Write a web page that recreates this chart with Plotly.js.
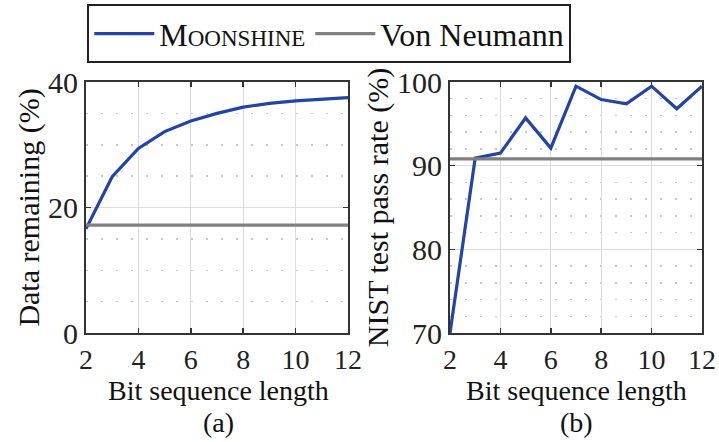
<!DOCTYPE html>
<html>
<head>
<meta charset="utf-8">
<script src="https://cdn.plot.ly/plotly-3.0.1.min.js"></script>
<style>html,body{margin:0;padding:0;background:#fff;}#chart{width:719px;height:442px;}</style>
</head>
<body>
<div id="chart"></div>
<script>
var bitLength = [2, 3, 4, 5, 6, 7, 8, 9, 10, 11, 12];
var moonshineRemaining = [16.6, 24.9, 29.4, 32.1, 33.8, 35.0, 36.0, 36.6, 37.0, 37.3, 37.5];
var vonNeumannRemaining = [17.2, 17.2, 17.2, 17.2, 17.2, 17.2, 17.2, 17.2, 17.2, 17.2, 17.2];
var moonshinePass = [70.0, 90.9, 91.5, 95.7, 92.1, 99.5, 97.9, 97.4, 99.5, 96.8, 99.5];
var vonNeumannPass = [90.8, 90.8, 90.8, 90.8, 90.8, 90.8, 90.8, 90.8, 90.8, 90.8, 90.8];
var xTicks = [2, 4, 6, 8, 10, 12];
var yTicksA = [0, 20, 40];
var yTicksB = [70, 80, 90, 100];
var xTitle = 'Bit sequence length';
var panelLabels = ['(a)', '(b)'];

var BLUE = '#2443a6', GRAY = '#7f7f7f';
var FONT = 'Liberation Serif';
var FS = 30;

var traces = [
  {x: bitLength, y: moonshineRemaining, type: 'scatter', mode: 'lines', name: 'M<span style="font-size:23px">OONSHINE</span>', line: {color: BLUE, width: 3.2}, xaxis: 'x', yaxis: 'y'},
  {x: bitLength, y: vonNeumannRemaining, type: 'scatter', mode: 'lines', name: 'Von Neumann', line: {color: GRAY, width: 3.2}, xaxis: 'x', yaxis: 'y'},
  {x: bitLength, y: moonshinePass, type: 'scatter', mode: 'lines', showlegend: false, line: {color: BLUE, width: 3.2}, xaxis: 'x2', yaxis: 'y2'},
  {x: bitLength, y: vonNeumannPass, type: 'scatter', mode: 'lines', showlegend: false, line: {color: GRAY, width: 3.2}, xaxis: 'x2', yaxis: 'y2'}
];

function xax(domain, anchor) {
  return {
    domain: domain, anchor: anchor, range: [2, 12], tickvals: xTicks,
    showline: true, linecolor: '#333', linewidth: 2, mirror: 'ticks',
    ticks: 'inside', ticklen: 5, tickcolor: '#333', tickwidth: 1.5,
    showgrid: true, gridcolor: '#dcdcdc', gridwidth: 1, zeroline: false,
    tickfont: {family: FONT, size: 28, color: '#222'}
  };
}
function yax(domain, anchor, range, ticks, minorDt, title) {
  return {
    domain: domain, anchor: anchor, range: range, tickvals: ticks,
    showline: true, linecolor: '#333', linewidth: 2, mirror: 'ticks',
    ticks: 'inside', ticklen: 5, tickcolor: '#333', tickwidth: 1.5,
    showgrid: true, gridcolor: '#dcdcdc', gridwidth: 1, zeroline: false,
    minor: {dtick: minorDt, tick0: range[0], showgrid: true, gridcolor: '#c8c8c8', gridwidth: 1.5, griddash: '2px,13px', ticks: ''},
    tickfont: {family: FONT, size: FS, color: '#222'},
    title: {text: title, font: {family: FONT, size: FS, color: '#111'}, standoff: 0}
  };
}

function ann(text, xpx, ypx) {
  return {text: text, x: xpx/719, y: 1 - ypx/442, xref: 'paper', yref: 'paper', showarrow: false,
          xanchor: 'center', yanchor: 'middle', font: {family: FONT, size: 28, color: '#111'}};
}

var yDom = [1 - 333/442, 1 - 82/442];
var layout = {
  width: 719, height: 442,
  margin: {l: 0, r: 0, t: 0, b: 0, autoexpand: false},
  paper_bgcolor: '#fff', plot_bgcolor: '#fff',
  showlegend: true,
  legend: {
    orientation: 'h', x: 0.458, xanchor: 'center', y: 0.99, yanchor: 'top',
    bordercolor: '#222', borderwidth: 2, bgcolor: '#fff',
    font: {family: FONT, size: 32, color: '#111'},
    itemwidth: 60, tracegroupgap: 0
  },
  xaxis: xax([86/719, 348/719], 'y'),
  yaxis: yax(yDom, 'x', [0, 40], yTicksA, 5, 'Data remaining (%)'),
  xaxis2: xax([450/719, 702/719], 'y2'),
  yaxis2: yax(yDom, 'x2', [70, 100], yTicksB, 2, 'NIST test pass rate (%)'),
  annotations: [
    ann(xTitle, 218, 390), ann(xTitle, 576, 390),
    ann(panelLabels[0], 218, 422), ann(panelLabels[1], 576, 422)
  ]
};

Plotly.newPlot('chart', traces, layout, {displayModeBar: false, staticPlot: true});
</script>
</body>
</html>
